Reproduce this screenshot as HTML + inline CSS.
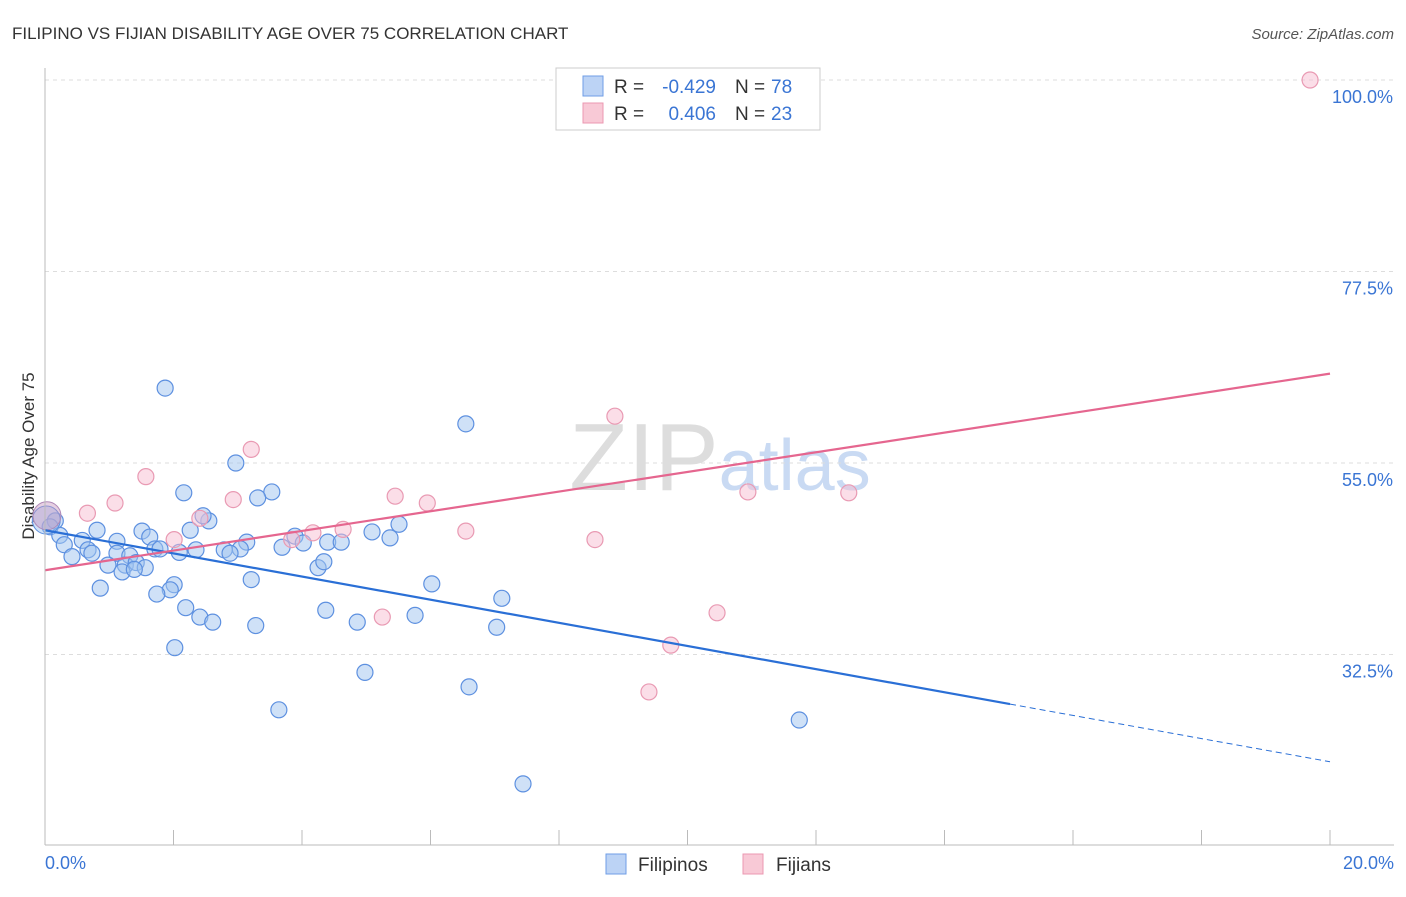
<!DOCTYPE html>
<html><head><meta charset="utf-8"><style>
body{margin:0;background:#fff;font-family:"Liberation Sans",sans-serif;}
svg text{font-family:"Liberation Sans",sans-serif;}
</style></head><body>
<svg id="c" width="1406" height="892">
<text x="12" y="39" font-size="17" fill="#333">FILIPINO VS FIJIAN DISABILITY AGE OVER 75 CORRELATION CHART</text>
<text x="1394" y="39" font-size="15" fill="#555" font-style="italic" text-anchor="end">Source: ZipAtlas.com</text>
<text x="34" y="456" font-size="17" fill="#333" transform="rotate(-90 34 456)" text-anchor="middle">Disability Age Over 75</text>
<text x="720" y="490" font-size="96" fill="#ddd" text-anchor="middle" font-family="Liberation Serif">ZIP<tspan fill="#c9daf3" font-family="Liberation Sans" font-size="72">atlas</tspan></text>
<g id="grid"></g><g id="pts"></g><g id="lines"></g>
<line x1="45" y1="68" x2="45" y2="845" stroke="#bbb"/>
<line x1="45" y1="845" x2="1394" y2="845" stroke="#bbb"/>
<text x="45" y="869" font-size="18" fill="#3a75d4">0.0%</text>
<text x="1394" y="869" font-size="18" fill="#3a75d4" text-anchor="end">20.0%</text>
<g>
<rect x="556" y="68" width="264" height="62" fill="#fff" stroke="#ccc"/>
<rect x="583" y="76" width="20" height="20" fill="#bcd3f5" stroke="#6f9ee6"/>
<rect x="583" y="103" width="20" height="20" fill="#f8c9d6" stroke="#eb98b1"/>
<text x="614" y="93" font-size="19" fill="#333">R =</text>
<text x="716" y="93" font-size="19" fill="#3a75d4" text-anchor="end">-0.429</text>
<text x="735" y="93" font-size="19" fill="#333">N =</text>
<text x="771" y="93" font-size="19" fill="#3a75d4">78</text>
<text x="614" y="120" font-size="19" fill="#333">R =</text>
<text x="716" y="120" font-size="19" fill="#3a75d4" text-anchor="end">0.406</text>
<text x="735" y="120" font-size="19" fill="#333">N =</text>
<text x="771" y="120" font-size="19" fill="#3a75d4">23</text>
</g>
<g>
<rect x="606" y="854" width="20" height="20" fill="#bcd3f5" stroke="#6f9ee6"/>
<text x="638" y="871" font-size="19" fill="#333">Filipinos</text>
<rect x="743" y="854" width="20" height="20" fill="#f8c9d6" stroke="#eb98b1"/>
<text x="776" y="871" font-size="19" fill="#333">Fijians</text>
</g>
</svg>
<script>
const yTicks=[100,77.5,55,32.5];
const xTickCount=10;
const blueX=[1.87,6.55,2.97,2.16,3.53,3.31,2.55,2.46,0.16,0.08,0.81,1.51,2.26,5.09,5.51,5.37,3.89,0.23,0.58,0.30,1.12,1.63,3.14,3.04,4.02,4.40,4.61,3.69,0.67,0.73,1.12,1.32,1.71,1.79,2.09,2.35,2.79,2.88,0.42,0.98,1.25,1.42,1.56,1.20,1.39,4.25,4.34,3.21,6.02,2.01,0.86,1.95,1.74,7.11,2.19,4.37,2.41,2.61,3.28,4.86,5.76,7.03,2.02,4.98,6.60,3.64,11.74,7.44];
const blueY=[63.8,59.6,55.0,51.5,51.6,50.9,48.2,48.8,48.2,47.5,47.1,47.0,47.1,46.9,47.8,46.2,46.4,46.5,45.9,45.4,45.8,46.3,45.7,44.9,45.6,45.7,45.7,45.1,44.8,44.4,44.4,44.1,44.9,44.9,44.5,44.8,44.8,44.4,44.0,43.0,43.0,43.3,42.7,42.2,42.5,42.7,43.4,41.3,40.8,40.7,40.3,40.1,39.6,39.1,38.0,37.7,36.9,36.3,35.9,36.3,37.1,35.7,33.3,30.4,28.7,26.0,24.8,17.3];
const pinkX=[19.69,8.87,3.21,1.57,1.09,2.93,5.45,5.95,10.94,12.51,0.66,2.41,6.55,4.64,4.17,8.56,2.01,3.84,5.25,10.46,9.74,9.40];
const pinkY=[100,60.5,56.6,53.4,50.3,50.7,51.1,50.3,51.6,51.5,49.1,48.5,47.0,47.2,46.8,46.0,46.0,46.0,36.9,37.4,33.6,28.1];
const bigBlue=[0.02,48.3], bigPink=[0.03,48.8];
const blueTrend=[47.1,19.9], blueSolidEnd=15.02;
const pinkTrend=[42.4,65.5];
const X=v=>45+v/20*1285;
const Y=v=>80+(100-v)/22.5*191.5;
const NS='http://www.w3.org/2000/svg';
function mk(p,t,a){const e=document.createElementNS(NS,t);for(const k in a)e.setAttribute(k,a[k]);p.appendChild(e);return e;}
const grid=document.getElementById('grid');
yTicks.forEach(t=>{
 const l=mk(grid,'line',{x1:45,x2:1394,y1:Y(t),y2:Y(t),stroke:'#ddd','stroke-dasharray':'4 4'});
 
 
 const tx=mk(grid,'text',{x:1393,y:Y(t)+23,'font-size':18,fill:'#3a75d4','text-anchor':'end'});
 tx.textContent=(t.toFixed(1))+'%';
 
 
});
for(let i=1;i<=xTickCount;i++){
 const l=mk(grid,'line',{x1:X(i*2),x2:X(i*2),y1:830,y2:845,stroke:'#bbb'});
 
 
}
const pts=document.getElementById('pts');
blueX.forEach((x,i)=>{
 const c=mk(pts,'circle',{cx:X(x),cy:Y(blueY[i]),r:8,fill:'rgba(160,195,240,0.5)',stroke:'#5d90e0','stroke-width':1.2});
 
 
});
pinkX.forEach((x,i)=>{
 const c=mk(pts,'circle',{cx:X(x),cy:Y(pinkY[i]),r:8,fill:'rgba(248,190,210,0.5)',stroke:'#e99ab3','stroke-width':1.2});
 
 
});
const b1=mk(pts,'circle',{cx:X(bigBlue[0]),cy:Y(bigBlue[1]),r:14,fill:'rgba(160,195,240,0.5)',stroke:'#5d90e0'});


const b2=mk(pts,'circle',{cx:X(bigPink[0]),cy:Y(bigPink[1]),r:14,fill:'rgba(200,150,190,0.45)',stroke:'#b08ab8'});


const lines=document.getElementById('lines');
const by=x=>blueTrend[0]+(blueTrend[1]-blueTrend[0])*x/20;
const l1=mk(lines,'line',{x1:X(0),y1:Y(by(0)),x2:X(blueSolidEnd),y2:Y(by(blueSolidEnd)),stroke:'#2a6fd6','stroke-width':2.2});


const l2=mk(lines,'line',{x1:X(blueSolidEnd),y1:Y(by(blueSolidEnd)),x2:X(20),y2:Y(by(20)),stroke:'#2a6fd6','stroke-width':1,'stroke-dasharray':'6 4'});


const l3=mk(lines,'line',{x1:X(0),y1:Y(pinkTrend[0]),x2:X(20),y2:Y(pinkTrend[1]),stroke:'#e5668f','stroke-width':2.2});


</script>
</body></html>
